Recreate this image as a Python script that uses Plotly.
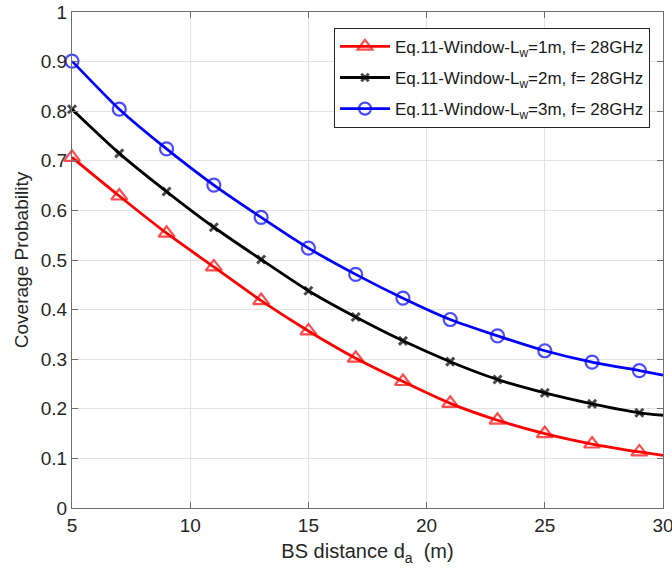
import plotly.graph_objects as go

x_vals = [5, 7, 9, 11, 13, 15, 17, 19, 21, 23, 25, 27, 29, 30]
marker_shown = [True]*13 + [False]

lw1_vals = [0.707, 0.629, 0.554, 0.486, 0.418, 0.357, 0.302, 0.255, 0.211, 0.177, 0.150, 0.129, 0.113, 0.106]
lw2_vals = [0.804, 0.715, 0.638, 0.566, 0.501, 0.438, 0.385, 0.337, 0.295, 0.259, 0.232, 0.210, 0.192, 0.187]
lw3_vals = [0.901, 0.804, 0.724, 0.651, 0.586, 0.524, 0.471, 0.423, 0.380, 0.347, 0.317, 0.294, 0.277, 0.268]

names = ["Eq.11-Window-L<sub>w</sub>=1m, f= 28GHz",
         "Eq.11-Window-L<sub>w</sub>=2m, f= 28GHz",
         "Eq.11-Window-L<sub>w</sub>=3m, f= 28GHz"]

x_ticks = [5, 10, 15, 20, 25, 30]
y_ticks = [0, 0.1, 0.2, 0.3, 0.4, 0.5, 0.6, 0.7, 0.8, 0.9, 1]
y_tick_text = ["0", "0.1", "0.2", "0.3", "0.4", "0.5", "0.6", "0.7", "0.8", "0.9", "1"]

styles = [
    dict(color="#ff0000", symbol="triangle-up-open", size=14, mlw=2.2),
    dict(color="#000000", symbol="x-thin", size=8, mlw=3),
    dict(color="#0000ff", symbol="circle-open", size=13, mlw=2.2),
]

FONT = "Liberation Sans, Arial, sans-serif"

fig = go.Figure()
for i, (vals, name, st) in enumerate(zip([lw1_vals, lw2_vals, lw3_vals], names, styles)):
    sizes = [st["size"] if m else 0 for m in marker_shown]
    fig.add_trace(go.Scatter(
        x=x_vals, y=vals, name=name, mode="lines+markers", legendgroup=f"g{i}",
        line=dict(color=st["color"], width=2.8, shape="spline", smoothing=0.6),
        marker=dict(symbol=st["symbol"], size=sizes, color=st["color"],
                    line=dict(color=st["color"], width=st["mlw"])),
        cliponaxis=False,
    ))

axis_common = dict(
    showline=True, linecolor="#6e6e6e", linewidth=1.3, mirror="ticks",
    ticks="inside", ticklen=6, tickcolor="#6e6e6e", tickwidth=1,
    showgrid=True, gridcolor="#e3e3e3", gridwidth=1, zeroline=False,
    automargin=False, ticklabeloverflow="allow",
    tickfont=dict(family=FONT, size=19, color="#262626"),
)

fig.update_xaxes(range=[5, 30], tickvals=x_ticks,
                 title=dict(text="BS distance d<sub>a</sub>  (m)", standoff=9,
                            font=dict(family=FONT, size=20, color="#262626")),
                 **axis_common)
fig.update_yaxes(range=[0, 1], tickvals=y_ticks, ticktext=y_tick_text,
                 title=dict(text="Coverage Probability", standoff=6,
                            font=dict(family=FONT, size=19, color="#262626")),
                 **axis_common)

fig.update_layout(
    width=672, height=571,
    margin=dict(l=72, r=9, t=12, b=63),
    plot_bgcolor="white", paper_bgcolor="white",
    font=dict(family=FONT, color="#262626"),
    legend=dict(x=0.978, y=0.968, xanchor="right", yanchor="top",
                bgcolor="white", bordercolor="#262626", borderwidth=1,
                font=dict(family=FONT, size=17, color="#1a1a1a"),
                itemwidth=50, tracegroupgap=6),
    showlegend=True,
)

fig.write_html("out.html")
